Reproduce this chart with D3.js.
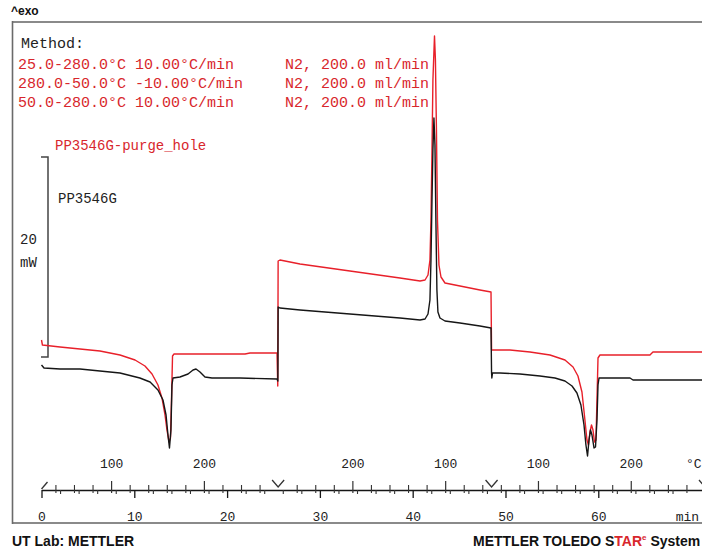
<!DOCTYPE html>
<html><head><meta charset="utf-8">
<script src="https://cdn.jsdelivr.net/npm/d3@7"></script>
<style>html,body{margin:0;padding:0;background:#fff;} svg{display:block;}</style>
</head><body><svg id="chart" width="702" height="550"></svg>
<script>
// DSC run: heat / cool / heat, heat flow (mW) against time (min)
const sampleNames = ["PP3546G", "PP3546G-purge_hole"];

const timeBlack = [0, 0.27, 2.0, 4.15, 6.3, 8.46, 10.6, 11.7, 12.55, 13.09, 13.42, 13.63, 13.79, 13.95, 14.06, 14.17,
  14.92, 15.79, 16.33, 16.65, 17.08, 17.62, 18.37, 21.39, 25.38, 25.47, 25.5,
  25.7, 27.86, 33.24, 38.63, 40.79, 41.33, 41.65, 41.86, 41.97, 42.08, 42.18, 42.29, 42.4, 42.5, 42.61, 42.72, 42.94,
  43.48, 45.1, 47.25, 48.44, 48.5, 48.53,
  48.6, 49.4, 51.56, 53.72, 55.33, 56.41, 57.17, 57.7, 58.13, 58.46, 58.67, 58.84, 59.0, 59.16, 59.32, 59.54, 59.7,
  59.86, 59.97, 60.08, 63.42, 63.74, 71.5];
const flowBlack = [-0.8, -1.1, -1.2, -1.2, -1.4, -1.6, -2.1, -2.5, -3.3, -4.3, -5.8, -7.8, -9.1, -7.3, -2.8, -2.1,
  -2.0, -1.7, -1.3, -1.2, -1.5, -2.0, -2.1, -2.1, -2.2, -2.4, 5.0,
  4.9, 4.7, 4.3, 3.9, 3.7, 3.8, 4.3, 5.7, 9.7, 15.7, 20.7, 23.9, 21.2, 13.7, 6.7, 4.5, 3.9,
  3.6, 3.4, 3.1, 2.9, -1.6, -2.1,
  -1.6, -1.6, -1.7, -1.9, -2.1, -2.4, -2.9, -3.6, -4.8, -6.8, -8.8, -9.9, -8.3, -7.3, -7.8, -9.1, -9.0,
  -6.3, -2.8, -2.1, -2.1, -2.3, -2.3];

const timeRed = [0, 0.1, 2.0, 4.15, 6.3, 8.46, 10.08, 11.15, 11.91, 12.55, 12.98, 13.31, 13.52, 13.74, 13.9, 14.01,
  14.12, 14.28, 17.08, 21.93, 22.47, 25.38, 25.46, 25.5,
  25.7, 27.86, 33.24, 38.63, 40.79, 41.33, 41.65, 41.86, 41.97, 42.08, 42.18, 42.35, 42.45, 42.56, 42.67, 42.83,
  43.05, 43.48, 45.1, 47.25, 48.44, 48.5,
  48.54, 50.48, 52.64, 54.8, 56.41, 57.28, 57.81, 58.24, 58.56, 58.78, 58.94, 59.1, 59.27, 59.43, 59.59, 59.75,
  59.86, 59.97, 60.18, 65.57, 65.89, 71.5];
const flowRed = [1.7, 1.2, 1.0, 0.8, 0.6, 0.2, -0.3, -0.9, -1.7, -2.8, -4.1, -5.8, -7.3, -8.5, -8.1, -4.3,
  0.1, 0.3, 0.3, 0.3, 0.4, 0.4, -2.9, 9.6,
  9.7, 9.3, 8.6, 7.9, 7.6, 7.7, 8.2, 9.7, 13.7, 20.7, 27.7, 32.1, 29.7, 22.7, 13.7, 9.2,
  8.0, 7.4, 7.1, 6.7, 6.5, 0.7,
  0.7, 0.7, 0.5, 0.2, -0.3, -1.0, -1.9, -3.5, -6.3, -8.3, -8.8, -7.5, -6.8, -7.3, -8.5, -8.3,
  -4.3, -0.1, 0.2, 0.2, 0.5, 0.5];

// temperature program segments
const segStart = [0, 25.5, 48.5];
const segEnd = [25.5, 48.5, 71.5];
const segTempStart = [25, 280, 50];
const segTempEnd = [280, 50, 280];
const tempLabels = [[100, 200], [200, 100], [100, 200]];
const timeTicks = [0, 10, 20, 30, 40, 50, 60];

const methodSteps = ["25.0-280.0°C 10.00°C/min", "280.0-50.0°C -10.00°C/min", "50.0-280.0°C 10.00°C/min"];
const methodGas = ["N2, 200.0 ml/min", "N2, 200.0 ml/min", "N2, 200.0 ml/min"];
const scaleBar = [0, 20]; // mW

const RED = "#e8202a", TEXTRED = "#d8262c", INK = "#161616";
const MONO = "'Liberation Mono', 'DejaVu Sans Mono', monospace";
const SANS = "'Liberation Sans', Arial, sans-serif";

const svg = d3.select("#chart");
const x = d3.scaleLinear().domain([0, 71.5]).range([41.5, 705]);
const y = d3.scaleLinear().domain([-16.5, 33.5]).range([522, 22]);
const axisY = 490;

// time -> programme temperature
function tempAt(t) {
  for (let i = 0; i < segStart.length; i++) {
    if (t >= segStart[i] - 1e-9 && t <= segEnd[i] + 1e-9) {
      const f = (t - segStart[i]) / (segEnd[i] - segStart[i]);
      return segTempStart[i] + f * (segTempEnd[i] - segTempStart[i]);
    }
  }
  return NaN;
}
function timeAt(i, T) {
  return segStart[i] + (T - segTempStart[i]) / (segTempEnd[i] - segTempStart[i]) * (segEnd[i] - segStart[i]);
}

// frame
svg.append("line").attr("x1", 12).attr("x2", 702).attr("y1", 22).attr("y2", 22)
  .attr("stroke", "#8a8a8a").attr("stroke-width", 2.2);
svg.append("line").attr("x1", 12).attr("x2", 702).attr("y1", 523).attr("y2", 523)
  .attr("stroke", "#8a8a8a").attr("stroke-width", 2);
svg.append("line").attr("x1", 12.5).attr("x2", 12.5).attr("y1", 21).attr("y2", 524)
  .attr("stroke", "#6a6a6a").attr("stroke-width", 1.6);

svg.append("text").attr("x", 11).attr("y", 15).attr("font-family", SANS).attr("font-weight", "bold")
  .attr("font-size", 12).attr("fill", "#111").text("^exo");

// method block
svg.append("text").attr("x", 21).attr("y", 48).attr("font-family", MONO).attr("font-size", 15)
  .attr("fill", "#222").text("Method:");
methodSteps.forEach((s, i) => {
  svg.append("text").attr("x", 18).attr("y", 69 + i * 19).attr("font-family", MONO).attr("font-size", 15)
    .attr("fill", TEXTRED).text(s);
  svg.append("text").attr("x", 285).attr("y", 69 + i * 19).attr("font-family", MONO).attr("font-size", 15)
    .attr("fill", TEXTRED).text(methodGas[i]);
});

// curve labels
svg.append("text").attr("x", 55).attr("y", 150).attr("font-family", MONO).attr("font-size", 14)
  .attr("fill", TEXTRED).text(sampleNames[1]);
svg.append("text").attr("x", 58).attr("y", 203).attr("font-family", MONO).attr("font-size", 14)
  .attr("fill", "#222").text(sampleNames[0]);

// heat-flow scale bar
const sb = svg.append("g").attr("fill", "none").attr("stroke", "#444").attr("stroke-width", 1.5);
sb.append("path").attr("d",
  `M41,${y(scaleBar[1])}H48V${y(scaleBar[0])}H41`);
svg.append("text").attr("x", 20).attr("y", 244).attr("font-family", MONO).attr("font-size", 14)
  .attr("fill", "#222").text(String(scaleBar[1] - scaleBar[0]));
svg.append("text").attr("x", 20).attr("y", 267).attr("font-family", MONO).attr("font-size", 14)
  .attr("fill", "#222").text("mW");

// curves
const line = d3.line().x(d => x(d[0])).y(d => y(d[1]));
const blackPts = timeBlack.map((t, i) => [t, flowBlack[i]]);
const redPts = timeRed.map((t, i) => [t, flowRed[i]]);
svg.append("path").datum(redPts).attr("d", line).attr("fill", "none")
  .attr("stroke", RED).attr("stroke-width", 1.4).attr("stroke-linejoin", "round");
svg.append("path").datum(blackPts).attr("d", line).attr("fill", "none")
  .attr("stroke", INK).attr("stroke-width", 1.4).attr("stroke-linejoin", "round");

// time axis (below the line)
const gTime = svg.append("g").attr("transform", `translate(0,${axisY})`)
  .call(d3.axisBottom(x).tickValues(timeTicks).tickSize(8).tickSizeOuter(0).tickPadding(14)
    .tickFormat(d3.format("d")));
gTime.select(".domain").attr("stroke", INK).attr("stroke-width", 1.5);
gTime.selectAll(".tick line").attr("stroke", INK).attr("stroke-width", 1.3);
gTime.selectAll("text").attr("font-family", MONO).attr("font-size", 13).attr("fill", "#222");

const gTimeMinor = svg.append("g").attr("transform", `translate(0,${axisY})`)
  .call(d3.axisBottom(x).tickValues(d3.range(2, 71, 2).filter(v => v % 10 !== 0)).tickSize(4).tickFormat(""));
gTimeMinor.select(".domain").remove();
gTimeMinor.selectAll(".tick line").attr("stroke", "#333").attr("stroke-width", 1.1);

// temperature ticks (above the line)
const tempMinor = [], tempMajor = [], tempLabelTimes = [];
segStart.forEach((s, i) => {
  const lo = Math.min(segTempStart[i], segTempEnd[i]), hi = Math.max(segTempStart[i], segTempEnd[i]);
  for (let T = Math.ceil(lo / 20) * 20; T <= hi; T += 20) {
    if (T === segTempStart[i] || T === segTempEnd[i]) continue;
    (T % 100 === 0 ? tempMajor : tempMinor).push(timeAt(i, T));
  }
  tempLabels[i].forEach(T => tempLabelTimes.push(timeAt(i, T)));
});
const gTempMinor = svg.append("g").attr("transform", `translate(0,${axisY})`)
  .call(d3.axisTop(x).tickValues(tempMinor).tickSize(5).tickFormat(""));
gTempMinor.select(".domain").remove();
gTempMinor.selectAll(".tick line").attr("stroke", "#333").attr("stroke-width", 1.1).attr("y2", -5).attr("y1", 3);
const gTempMajor = svg.append("g").attr("transform", `translate(0,${axisY})`)
  .call(d3.axisTop(x).tickValues(tempMajor).tickSize(9).tickFormat(""));
gTempMajor.select(".domain").remove();
gTempMajor.selectAll(".tick line").attr("stroke", "#333").attr("stroke-width", 1.2).attr("y1", 3);
const gTempLab = svg.append("g").attr("transform", `translate(0,${axisY})`)
  .call(d3.axisTop(x).tickValues(tempLabelTimes).tickSize(0).tickPadding(22)
    .tickFormat(t => d3.format("d")(Math.round(tempAt(t)))));
gTempLab.select(".domain").remove();
gTempLab.selectAll("text").attr("font-family", MONO).attr("font-size", 13).attr("fill", "#222");

svg.append("text").attr("x", 686).attr("y", 468).attr("font-family", MONO).attr("font-size", 13)
  .attr("fill", "#222").text("°C");
svg.append("text").attr("x", x(69.6)).attr("y", 521).attr("text-anchor", "middle").attr("font-family", MONO)
  .attr("font-size", 13).attr("fill", "#222").text("min");

// segment boundary markers and start mark
const marks = svg.append("g").attr("fill", "none").attr("stroke", "#333").attr("stroke-width", 1.3);
segEnd.forEach(t => {
  marks.append("path").attr("d", `M${x(t) - 6},${axisY - 10}L${x(t)},${axisY - 3}L${x(t) + 6},${axisY - 10}`);
});
marks.append("path").attr("d", `M${x(segStart[0])},${axisY - 1}L${x(segStart[0]) + 6},${axisY - 8}`);

// footer
svg.append("text").attr("x", 12).attr("y", 546).attr("font-family", SANS).attr("font-weight", "bold")
  .attr("font-size", 14).attr("fill", "#111").text("UT Lab: METTLER");
const ft = svg.append("text").attr("x", 473).attr("y", 546).attr("font-family", SANS).attr("font-weight", "bold")
  .attr("font-size", 14).attr("fill", "#111");
ft.append("tspan").text("METTLER TOLEDO S");
ft.append("tspan").attr("fill", TEXTRED).text("TAR");
ft.append("tspan").attr("fill", TEXTRED).attr("font-size", 8).attr("dy", -6).text("e");
ft.append("tspan").attr("dy", 6).text(" System");
</script></body></html>
